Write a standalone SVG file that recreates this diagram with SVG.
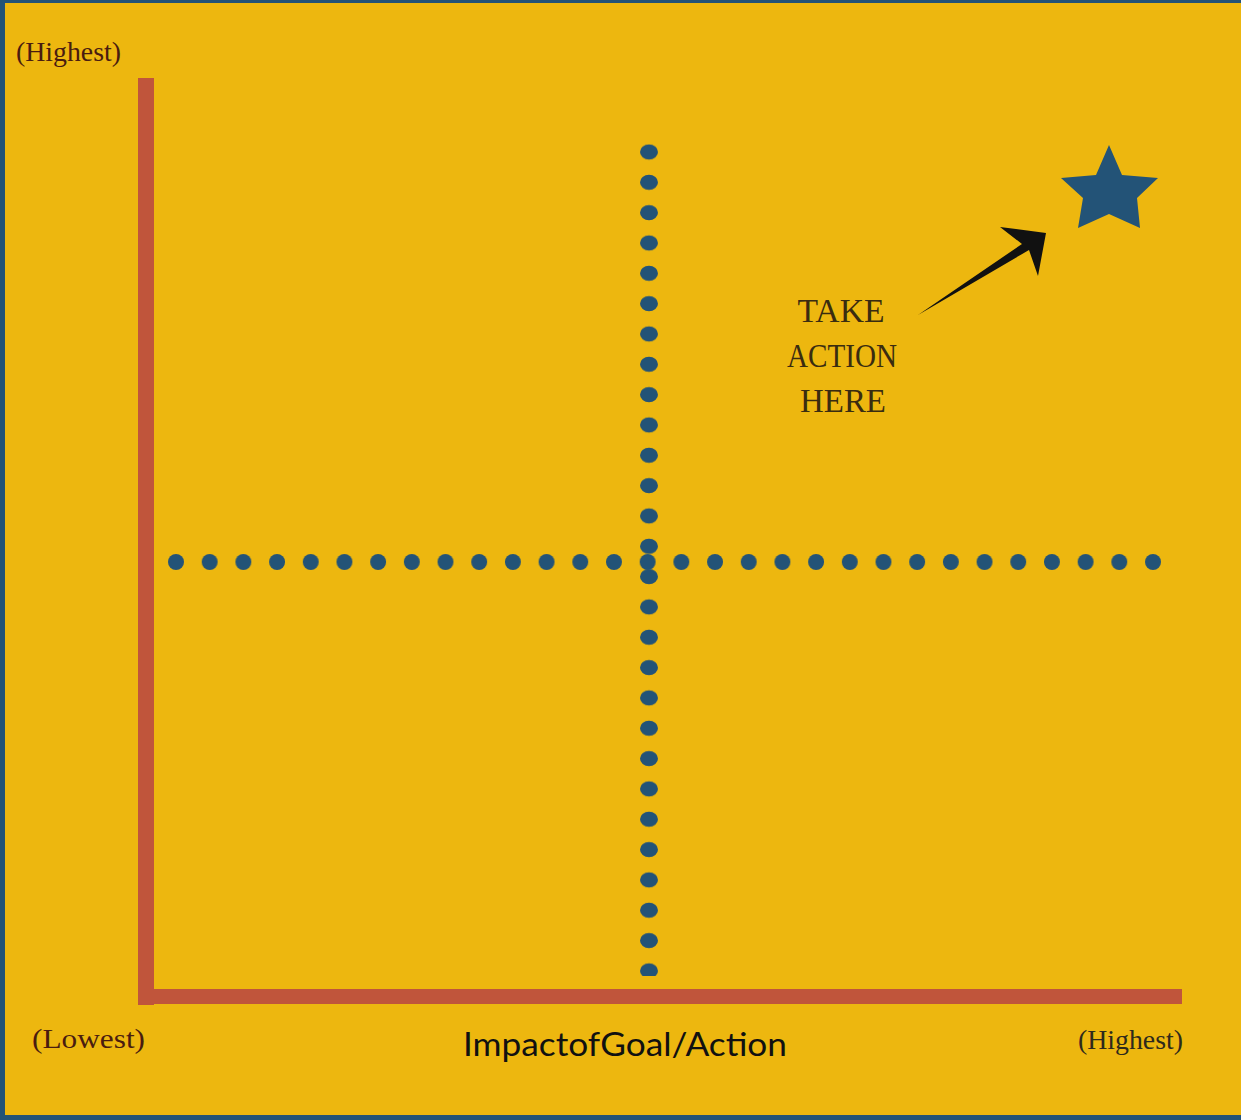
<svg xmlns="http://www.w3.org/2000/svg" width="1241" height="1120" viewBox="0 0 1241 1120">
  <style>
    .serif { font-family: "Liberation Serif", "Times New Roman", serif; }
    .axis { fill: #C0553B; }
    .dot { fill: #235377; }
    .lbl { font-size: 28px; fill: #4a1c10; }
    .take { font-size: 34px; fill: #3a2c10; text-anchor: middle; }
  </style>
  <defs>
    <!-- horizontal row of round dots -->
    <pattern id="hdots" patternUnits="userSpaceOnUse" x="159.15" y="554" width="33.69" height="16">
      <circle class="dot" cx="16.85" cy="8" r="8"/>
    </pattern>
    <!-- vertical column of flattened dots -->
    <pattern id="vdots" patternUnits="userSpaceOnUse" x="640" y="136.83" width="18" height="30.33">
      <ellipse class="dot" cx="9" cy="15.17" rx="9" ry="7.5"/>
    </pattern>
  </defs>

  <!-- frame -->
  <rect x="0" y="0" width="1241" height="1120" fill="#235377"/>
  <rect x="5" y="3" width="1236" height="1112" fill="#EDB70F"/>

  <!-- axes -->
  <g id="axes">
    <rect class="axis" x="138" y="78" width="16" height="927"/>
    <rect class="axis" x="154" y="989" width="1028" height="15"/>
  </g>

  <!-- quadrant divider lines -->
  <g id="dividers">
    <rect x="159" y="554" width="1011" height="16" fill="url(#hdots)"/>
    <rect x="640" y="144" width="18" height="832" fill="url(#vdots)"/>
  </g>

  <!-- goal star -->
  <g id="star">
    <polygon fill="#235377" points="1109,145 1122,175 1158,178 1137,198 1140,228 1109,214 1078,228 1083,198 1061,178 1096,175"/>
  </g>

  <!-- callout -->
  <g id="callout">
    <text class="serif take" x="841" y="322" textLength="87" lengthAdjust="spacingAndGlyphs">TAKE</text>
    <text class="serif take" x="842" y="367" textLength="110" lengthAdjust="spacingAndGlyphs">ACTION</text>
    <text class="serif take" x="843" y="412" textLength="86" lengthAdjust="spacingAndGlyphs">HERE</text>
  </g>

  <g id="connectors">
    <path fill="#111" d="M918,315 L1022,244 L1000,227 L1046,233 L1038,276 L1029,250 Z"/>
  </g>

  <!-- axis labels -->
  <g id="labels">
    <text class="serif lbl" x="16" y="61" textLength="105" lengthAdjust="spacingAndGlyphs">(Highest)</text>
    <text class="serif lbl" x="32" y="1048" textLength="113" lengthAdjust="spacingAndGlyphs">(Lowest)</text>
    <text class="serif lbl" x="1078" y="1049" textLength="105" lengthAdjust="spacingAndGlyphs" style="fill:#2e2a1c">(Highest)</text>
    <text x="463" y="1056" font-family="Lato, 'Liberation Sans', sans-serif" font-size="32" fill="#111" textLength="324" lengthAdjust="spacingAndGlyphs">ImpactofGoal/Action</text>
  </g>
</svg>
